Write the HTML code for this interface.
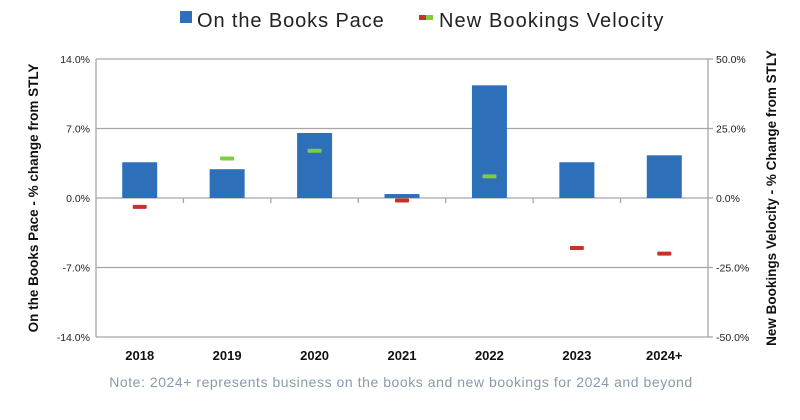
<!DOCTYPE html>
<html><head><meta charset="utf-8"><style>
body{margin:0;background:#fff;width:800px;height:415px;overflow:hidden;font-family:"Liberation Sans",sans-serif}
</style></head><body>
<svg id="chart" width="800" height="415" xmlns="http://www.w3.org/2000/svg">
<g>
<rect x="180" y="11" width="12" height="12" fill="#2e6fba"/>
<text x="197" y="27" font-size="20" letter-spacing="0.9" fill="#222">On the Books Pace</text>
<rect x="419" y="15" width="7" height="5" fill="#c8312a"/>
<rect x="426" y="15" width="7" height="5" fill="#7fcc3c"/>
<text x="439" y="27" font-size="20" letter-spacing="1.1" fill="#222">New Bookings Velocity</text>
</g>
<g id="grid"></g>
<g id="bars"></g>
<g id="marks"></g>
<g id="axes"></g>
<text transform="translate(38,198) rotate(-90)" text-anchor="middle" font-size="13.5" font-weight="bold" fill="#111">On the Books Pace - % change from STLY</text>
<text transform="translate(776,198) rotate(-90)" text-anchor="middle" font-size="13.5" font-weight="bold" fill="#111">New Bookings Velocity - % Change from STLY</text>
<text x="401" y="387" text-anchor="middle" font-size="14" letter-spacing="0.55" fill="#8a9aaa">Note: 2024+ represents business on the books and new bookings for 2024 and beyond</text>
</svg>
<script>
const categories=["2018","2019","2020","2021","2022","2023","2024+"];
const paceValues=[3.6,2.9,6.55,0.4,11.35,3.6,4.3];
const velocityValues=[-3.2,14.2,17,-0.9,7.8,-18,-20];
const leftTicks=[14,7,0,-7,-14];
const rightTicks=[50,25,0,-25,-50];
const NS="http://www.w3.org/2000/svg";
const L=96,R=708,T=59,B=337;
const yL=v=>T+(14-v)/28*(B-T);
const yR=v=>T+(50-v)/100*(B-T);
const bw=(R-L)/categories.length;
const xC=i=>L+bw*(i+0.5);
function mk(tag,attrs,parent){const e=document.createElementNS(NS,tag);for(const k in attrs)e.setAttribute(k,attrs[k]);document.getElementById(parent).appendChild(e);return e;}
leftTicks.forEach((t,i)=>{
 const l=mk('line',{x1:L,x2:R,y1:yL(t),y2:yL(t),stroke:'#a6a6a6','stroke-width':1.3},'grid');
 
 
 const tx=mk('text',{x:L-6,y:yL(t)+4,'text-anchor':'end','font-size':10.5,fill:'#222'},'axes');
 tx.textContent=t.toFixed(1)+'%';
 
 
});
rightTicks.forEach(t=>{
 const tk=mk('line',{x1:R,x2:R+5,y1:yR(t),y2:yR(t),stroke:'#a6a6a6','stroke-width':1.3},'axes');
 
 
 const tx=mk('text',{x:R+8,y:yR(t)+4,'font-size':10.5,fill:'#222'},'axes');
 tx.textContent=t.toFixed(1)+'%';
 
 
});
[L,R].forEach(x=>{const a=mk('line',{x1:x,x2:x,y1:T,y2:B,stroke:'#a6a6a6','stroke-width':1.3},'axes');
 
 });
categories.forEach((c,i)=>{
 if(i>0){const tk=mk('line',{x1:L+bw*i,x2:L+bw*i,y1:yL(0),y2:yL(0)+5,stroke:'#a6a6a6','stroke-width':1.3},'axes');
 
 }
 const tx=mk('text',{x:xC(i),y:360,'text-anchor':'middle','font-size':13,'font-weight':'bold',fill:'#111'},'axes');
 tx.textContent=c;
 
 
 const v=paceValues[i];
 const b=mk('rect',{x:xC(i)-17.5,y:Math.min(yL(v),yL(0)),width:35,height:Math.abs(yL(v)-yL(0)),fill:'#2e6fba'},'bars');
 
 
 const vv=velocityValues[i];
 const m=mk('rect',{x:xC(i)-7,y:yR(vv)-2,width:14,height:4,rx:1,fill:vv>=0?'#7fcc3c':'#c8312a'},'marks');
 
 
});
</script>
</body></html>
